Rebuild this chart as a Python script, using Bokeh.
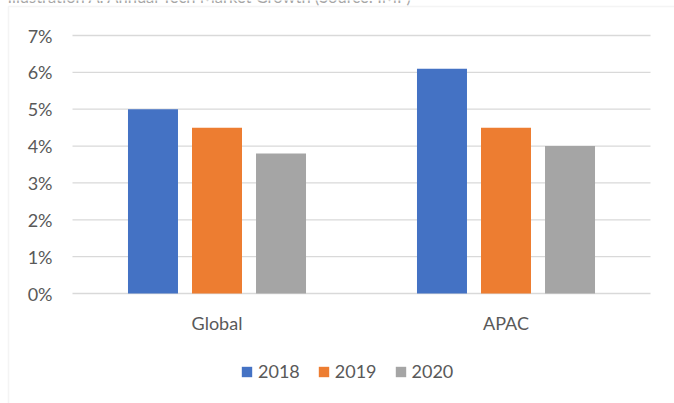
from bokeh.plotting import figure
from bokeh.models import (ColumnDataSource, Range1d, Legend, LegendItem, Label, BoxAnnotation)
from bokeh.core.properties import value
from bokeh.transform import dodge
from bokeh.embed import file_html
from bokeh.resources import INLINE

regions = ["Global", "APAC"]
years = ["2018", "2019", "2020"]
growth_2018 = [0.050, 0.061]
growth_2019 = [0.045, 0.045]
growth_2020 = [0.038, 0.040]
colors = ["#4472C4", "#ED7D31", "#A5A5A5"]
y_ticks = [0, 0.01, 0.02, 0.03, 0.04, 0.05, 0.06, 0.07]
y_tick_labels = ["0%", "1%", "2%", "3%", "4%", "5%", "6%", "7%"]
title_text = "Illustration A: Annual Tech Market Growth (Source: IMF)"

FONT = "Lato"
TXT = "#595959"
W, H = 674, 403
# plot-area geometry in pixels (layout only)
LEFT, RIGHT, TOP, BOTTOM = 72, 650, 35, 293

n = len(regions)
px_per_cat = (RIGHT - LEFT) / n
px_per_unit = (BOTTOM - TOP) / max(y_ticks)
x_range = Range1d(-LEFT / px_per_cat, n + (W - RIGHT) / px_per_cat)
y_range = Range1d(-(H - BOTTOM) / px_per_unit, max(y_ticks) + TOP / px_per_unit)

source = ColumnDataSource(dict(region=regions, xc=[i + 0.5 for i in range(n)],
                               y2018=growth_2018, y2019=growth_2019, y2020=growth_2020))
grid_src = ColumnDataSource(dict(y=y_ticks, label=y_tick_labels,
                                 x0=[0] * len(y_ticks), x1=[n] * len(y_ticks)))

p = figure(width=W, height=H, x_range=x_range, y_range=y_range,
           output_backend="svg", toolbar_location=None,
           min_border=0, min_border_left=0, min_border_right=0,
           min_border_top=0, min_border_bottom=0)
p.xaxis.visible = False
p.yaxis.visible = False
p.xgrid.visible = False
p.ygrid.visible = False
p.outline_line_color = None
p.background_fill_color = "white"
p.border_fill_color = "white"

# gridlines
p.segment(x0="x0", x1="x1", y0="y", y1="y", source=grid_src,
          line_color="#d9d9d9", line_width=1.3)
# y tick labels
p.text(x="x0", y="y", text="label", source=grid_src, x_offset=-20,
       text_align="right", text_baseline="middle", text_font=value(FONT),
       text_font_size="18px", text_color=TXT)
# category labels
p.text(x="xc", y=0, text="region", source=source, y_offset=29,
       text_align="center", text_baseline="middle", text_font=value(FONT),
       text_font_size="18px", text_color=TXT)

offsets = [-0.2215, 0.0, 0.2215]
cols = ["y2018", "y2019", "y2020"]
renderers = []
for off, col, c in zip(offsets, cols, colors):
    r = p.vbar(x=dodge("xc", off), top=col, bottom=0, width=0.173,
               source=source, fill_color=c, line_color=None)
    renderers.append(r)

legend = Legend(items=[LegendItem(label=y, renderers=[r]) for y, r in zip(years, renderers)],
                orientation="horizontal", location=(240, 21),
                glyph_width=13, glyph_height=13, label_height=12,
                label_text_font=FONT, label_text_font_size="18px",
                label_text_color=TXT, label_standoff=5, spacing=17,
                padding=0, margin=0, border_line_color=None,
                background_fill_alpha=0)
p.add_layout(legend, "center")

border = BoxAnnotation(left=8, right=W + 20, top=6, bottom=H + 20,
                       left_units="canvas", right_units="canvas",
                       top_units="canvas", bottom_units="canvas",
                       fill_alpha=0, line_color="#d9d9d9", line_width=1.5)
p.add_layout(border)

title = Label(x=7, y=-4, x_units="canvas", y_units="canvas", text=title_text,
              text_font=FONT, text_font_size="16.5px", text_color="#a6a6a6",
              text_baseline="alphabetic")
p.add_layout(title)

open("out.html", "w").write(file_html(p, INLINE))
